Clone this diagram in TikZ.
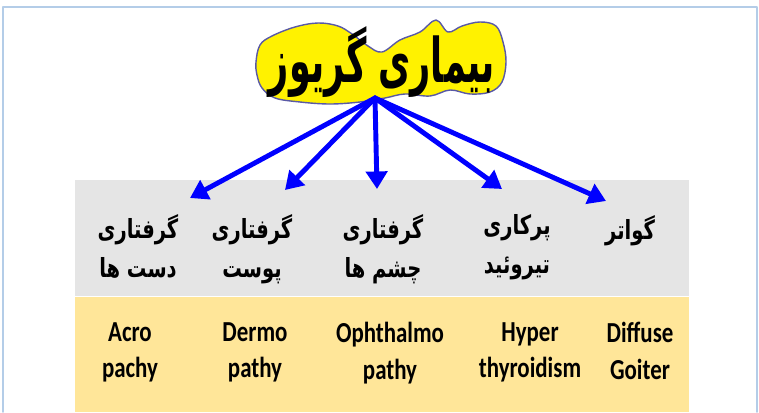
\documentclass[tikz,border=0pt]{standalone}
\usepackage{fontspec}
\setmainfont{Carlito}
\newfontfamily\farsi[Script=Arabic]{DejaVu Sans}
\TeXXeTstate=1
\usetikzlibrary{arrows.meta}
\definecolor{khung}{RGB}{180,205,232}
\definecolor{nenxam}{RGB}{229,229,229}
\definecolor{nenvang}{RGB}{255,230,153}
\newcommand{\rtl}[1]{\beginR #1\endR}

\begin{document}
\begin{tikzpicture}[x=0.02cm, y=-0.02cm, line join=round, line cap=round,
    fa/.style={font=\farsi\bfseries\fontsize{15}{22.5}\selectfont, align=center, anchor=north, xscale=0.74},
    en/.style={font=\bfseries\fontsize{16.5}{21}\selectfont, align=center, anchor=north, xscale=0.79},
    mui/.style={blue, line width=2.8pt, -{Triangle[length=10pt,width=12pt]}}]
  \useasboundingbox (0,0) rectangle (759,412);
  % khung va nen
  \draw[khung, line width=1pt] (3,412) -- (3,7) -- (757,7) -- (757,412);
  \fill[nenxam] (75,180) rectangle (689,296);
  \fill[nenvang] (75,297) rectangle (689,412);
  % dam may
  \draw[fill=yellow, draw=gray!70!blue, line width=0.8pt] plot[smooth cycle, tension=0.6] coordinates {
    (256,62) (260,45) (272,36) (295,27) (318,23) (338,26) (352,34) (368,46) (382,52)
    (400,40) (420,32) (436,20) (448,32) (462,26) (480,22) (496,26) (503,42) (506,62)
    (502,82) (490,92) (470,94) (450,90) (430,96) (405,94) (385,98) (360,102) (330,104)
    (300,102) (275,98) (262,88) (257,75)};
  \node[xscale=0.57] (tieude) at (382,62) {\farsi\bfseries\fontsize{35}{40}\selectfont\rtl{بیماری گریوز}};
  % cac nhan
  \node[fa] (fa1) at (138,208) {\rtl{گرفتاری}\\\rtl{دست ها}};
  \node[fa] (fa2) at (252,208) {\rtl{گرفتاری}\\\rtl{پوست}};
  \node[fa] (fa3) at (383,208) {\rtl{گرفتاری}\\\rtl{چشم ها}};
  \node[fa] (fa4) at (517,208) {\rtl{پرکاری}\\\rtl{تیروئید}};
  \node[fa] (fa5) at (630,209) {\rtl{گواتر}};
  \node[en] (en1) at (130,316) {Acro\\pachy};
  \node[en] (en2) at (255,316) {Dermo\\pathy};
  \node[en] (en3) at (390,316) {Ophthalmo\\pathy};
  \node[en] (en4) at (530,316) {Hyper\\thyroidism};
  \node[en] (en5) at (640,316) {Diffuse\\Goiter};
  % mui ten
  \coordinate (goc) at (375,98);
  \coordinate (d1) at (190,198);
  \coordinate (d2) at (285,190);
  \coordinate (d3) at (377,189);
  \coordinate (d4) at (502,189);
  \coordinate (d5) at (606,201);
  \foreach \i in {1,...,5}
    \draw[mui] (goc) -- (d\i);
\end{tikzpicture}
\end{document}
